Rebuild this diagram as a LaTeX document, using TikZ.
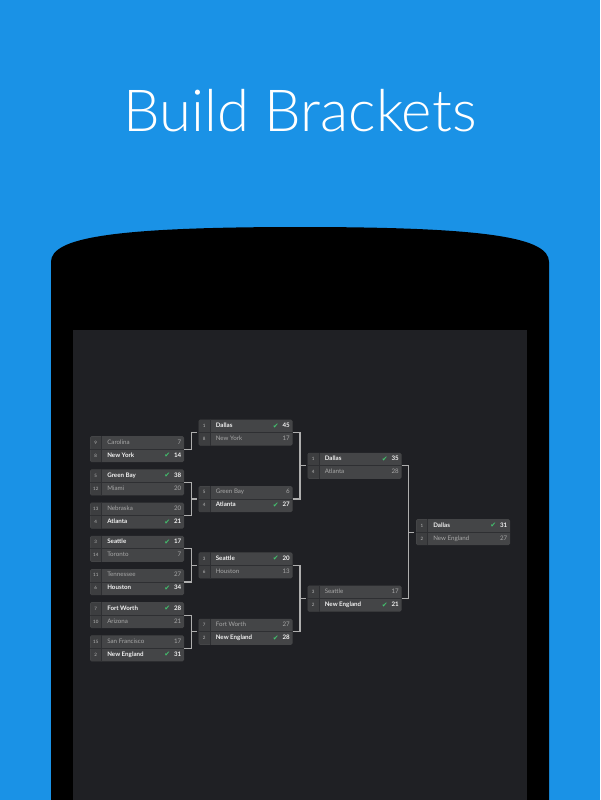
\documentclass[tikz,border=0pt]{standalone}
\usepackage{fontspec}
\usetikzlibrary{calc}
\setmainfont{Lato}
\IfFontExistsTF{Lato Light}{\newfontfamily\titlefont{Lato Light}}{%
  \IfFontExistsTF{Fira Sans Light}{\newfontfamily\titlefont{Fira Sans Light}}{\newfontfamily\titlefont{Open Sans}}}
\newfontfamily\symfont{DejaVu Sans}
\definecolor{bgblue}{HTML}{1A92E6}
\definecolor{screenc}{HTML}{1F2024}
\definecolor{boxc}{HTML}{444547}
\definecolor{seedc}{HTML}{3D3E40}
\definecolor{sepc}{HTML}{2E2F32}
\definecolor{wintxt}{HTML}{F2F2F2}
\definecolor{losetxt}{HTML}{A8A8A8}
\definecolor{seedtxtc}{HTML}{B8B8B8}
\definecolor{checkc}{HTML}{43C26E}
\definecolor{connc}{HTML}{AEAEAE}
\newcommand{\matchat}[3]{%
  \node[matchbox] (#1) at (#2,#3) {};
  \fill[seedc] ($(#1.north west)+(0.7,0.7)$) rectangle ($(#1.south west)+(12,-0.7)$);
  \draw[sepline] ($(#1.north west)+(12,0)$) -- ($(#1.south west)+(12,0)$);
  \draw[sepline] (#1.west) -- (#1.east);
}
\newcommand{\teamrow}[6]{%
  \ifnum#2=1 \def\ry{6.5}\else\def\ry{19.5}\fi
  \node[seedtxt] (#1-s#2) at ($(#1.north west)+(6,\ry)$) {#3};
  \node[#6team,anchor=west] (#1-t#2) at ($(#1.north west)+(17.3,\ry)$) {#4};
  \node[#6team,anchor=east] (#1-p#2) at ($(#1.north east)+(-2.8,\ry)$) {#5};
  \if w#6 \node[checktxt] (#1-c#2) at ($(#1.north east)+(-17,\ry)$) {✔};\fi
}
\newcommand{\link}[2]{%
  \draw[conn] (#1.east) -| ($(#1.east)!.5!(#2.west)$) |- (#2.west);
}
\begin{document}
\begin{tikzpicture}[x=1pt,y=-1pt,
  matchbox/.style={fill=boxc, rounded corners=1.5pt, minimum width=94pt, minimum height=26pt, inner sep=0pt, draw=none},
  sepline/.style={draw=sepc, line width=0.7pt},
  seedtxt/.style={inner sep=0pt, font=\fontsize{4.5}{5}\selectfont, text=seedtxtc},
  wteam/.style={inner sep=0pt, font=\fontsize{6.2}{7}\selectfont\bfseries, text=wintxt, text height=4.4pt, text depth=1.2pt},
  lteam/.style={inner sep=0pt, font=\fontsize{6.2}{7}\selectfont, text=losetxt, text height=4.4pt, text depth=1.2pt},
  checktxt/.style={inner sep=0pt, font=\symfont\fontsize{7}{7}\selectfont, text=checkc},
  conn/.style={draw=connc, line width=1.2pt, shorten >=1.5pt},
  titlestyle/.style={inner sep=0pt, anchor=base, text=white, font=\titlefont\fontsize{58}{60}\selectfont}
]
\fill[bgblue] (0,0) rectangle (600,800);
\useasboundingbox (0,0) rectangle (600,800);
\node[titlestyle] (title) at (300,131.7) {Build Brackets};
\fill[black] (51,800) -- (51,262) .. controls (51,238) and (110,227) .. (300,227)
  .. controls (490,227) and (549,238) .. (549,262) -- (549,800) -- cycle;
\fill[screenc] (73,330) rectangle (527,800);
% round 1
\matchat{a1}{137}{449.2}
\teamrow{a1}{1}{9}{Carolina}{7}{l}
\teamrow{a1}{2}{8}{New York}{14}{w}
\matchat{a2}{137}{482.4}
\teamrow{a2}{1}{5}{Green Bay}{38}{w}
\teamrow{a2}{2}{12}{Miami}{20}{l}
\matchat{a3}{137}{515.6}
\teamrow{a3}{1}{13}{Nebraska}{20}{l}
\teamrow{a3}{2}{4}{Atlanta}{21}{w}
\matchat{a4}{137}{548.8}
\teamrow{a4}{1}{3}{Seattle}{17}{w}
\teamrow{a4}{2}{14}{Toronto}{7}{l}
\matchat{a5}{137}{582}
\teamrow{a5}{1}{11}{Tennessee}{27}{l}
\teamrow{a5}{2}{6}{Houston}{34}{w}
\matchat{a6}{137}{615.2}
\teamrow{a6}{1}{7}{Fort Worth}{28}{w}
\teamrow{a6}{2}{10}{Arizona}{21}{l}
\matchat{a7}{137}{648.4}
\teamrow{a7}{1}{15}{San Francisco}{17}{l}
\teamrow{a7}{2}{2}{New England}{31}{w}
% round 2
\matchat{b1}{245.5}{432.6}
\teamrow{b1}{1}{1}{Dallas}{45}{w}
\teamrow{b1}{2}{8}{New York}{17}{l}
\matchat{b2}{245.5}{499}
\teamrow{b2}{1}{5}{Green Bay}{6}{l}
\teamrow{b2}{2}{4}{Atlanta}{27}{w}
\matchat{b3}{245.5}{565.4}
\teamrow{b3}{1}{3}{Seattle}{20}{w}
\teamrow{b3}{2}{6}{Houston}{13}{l}
\matchat{b4}{245.5}{631.8}
\teamrow{b4}{1}{7}{Fort Worth}{27}{l}
\teamrow{b4}{2}{2}{New England}{28}{w}
% round 3
\matchat{c1}{354.5}{465.8}
\teamrow{c1}{1}{1}{Dallas}{35}{w}
\teamrow{c1}{2}{4}{Atlanta}{28}{l}
\matchat{c2}{354.5}{598.6}
\teamrow{c2}{1}{3}{Seattle}{17}{l}
\teamrow{c2}{2}{2}{New England}{21}{w}
% final
\matchat{f}{463}{532.2}
\teamrow{f}{1}{1}{Dallas}{31}{w}
\teamrow{f}{2}{2}{New England}{27}{l}
% connectors
\link{a1}{b1}
\link{a2}{b2}
\link{a3}{b2}
\link{a4}{b3}
\link{a5}{b3}
\link{a6}{b4}
\link{a7}{b4}
\link{b1}{c1}
\link{b2}{c1}
\link{b3}{c2}
\link{b4}{c2}
\link{c1}{f}
\link{c2}{f}
\end{tikzpicture}
\end{document}
